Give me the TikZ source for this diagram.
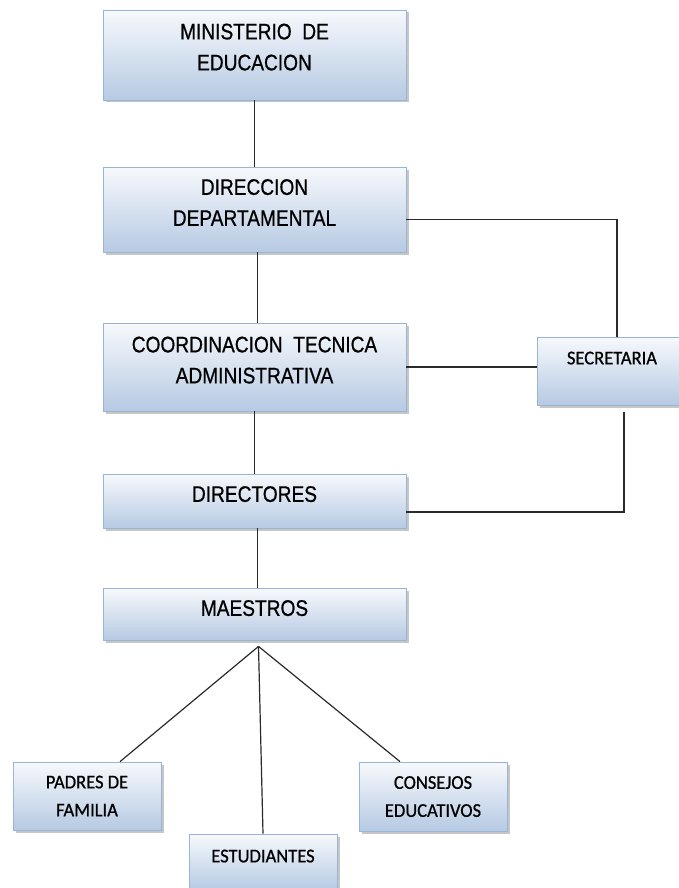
\documentclass[tikz,border=0pt]{standalone}
\usepackage{fontspec}
\setmainfont[FakeStretch=0.85,FakeBold=0.7]{Liberation Sans}
\newfontfamily\calibrifont[FakeStretch=0.95,FakeBold=0.7]{Carlito}
\usetikzlibrary{shadows,positioning}
\definecolor{boxtop}{HTML}{F7F9FC}
\definecolor{boxbot}{HTML}{B6CAE3}
\definecolor{boxline}{HTML}{98B4D8}
\definecolor{wire}{HTML}{2A2A2A}
\tikzset{
  orgbox/.style={draw=boxline, line width=0.8pt, top color=boxtop, bottom color=boxbot,
    drop shadow={shadow xshift=2.5pt, shadow yshift=-2.5pt, fill=black!50, opacity=0.45},
    inner sep=0pt, align=center, text=black},
  bigbox/.style={orgbox, minimum width=303pt, font=\fontsize{22.5}{31}\selectfont, text depth=14pt},
  smallbox/.style={orgbox, minimum width=148pt, font=\calibrifont\fontsize{19.5}{28}\selectfont},
  wireline/.style={draw=wire, line width=1.2pt}
}
\begin{document}
\begin{tikzpicture}[x=1pt,y=-1pt]
\useasboundingbox (0,0) rectangle (679,888);
\node[bigbox, minimum height=90pt, text depth=16pt] (min) at (254.5,55) {MINISTERIO\ \ DE\\EDUCACION};
\node[bigbox, minimum height=85pt] (dir) at (254.5,209.5) {DIRECCION\\DEPARTAMENTAL};
\node[bigbox, minimum height=88pt] (coo) at (254.5,367) {COORDINACION\ \ TECNICA\\ADMINISTRATIVA};
\node[bigbox, minimum height=54pt] (dirs) at (254.5,501) {DIRECTORES};
\node[bigbox, minimum height=52pt, text depth=12pt] (mae) at (254.5,614) {MAESTROS};
\node[smallbox, minimum width=150pt, minimum height=68pt, text depth=26pt] (sec) at (612,371) {SECRETARIA};
\node[smallbox, minimum height=68pt, text depth=0pt] (pad) at (87,796) {PADRES DE\\FAMILIA};
\node[smallbox, minimum height=56pt, text depth=12pt] (est) at (263,862) {ESTUDIANTES};
\node[smallbox, minimum height=69pt, text depth=0pt] (con) at (433,796.5) {CONSEJOS\\EDUCATIVOS};

\draw[wireline] (min.south) -- (dir.north);
\draw[wireline] ([xshift=3pt]dir.south) -- ([xshift=3pt]coo.north);
\draw[wireline] (coo.south) -- (dirs.north);
\draw[wireline] ([xshift=3pt]dirs.south) -- ([xshift=3pt]mae.north);

\draw[wireline] ([yshift=-10pt]dir.east) -| ([xshift=5pt]sec.north);
\draw[wireline] (coo.east) -- (coo.east -| sec.west);
\draw[wireline] ([yshift=-11pt]dirs.east) -| ([xshift=12pt,yshift=-7pt]sec.south);

\coordinate (hub) at ([xshift=4pt,yshift=-6pt]mae.south);
\draw[wireline] (hub) -- ([xshift=33pt]pad.north);
\draw[wireline] (hub) -- (est.north);
\draw[wireline] (hub) -- ([xshift=-33pt]con.north);
\end{tikzpicture}
\end{document}
